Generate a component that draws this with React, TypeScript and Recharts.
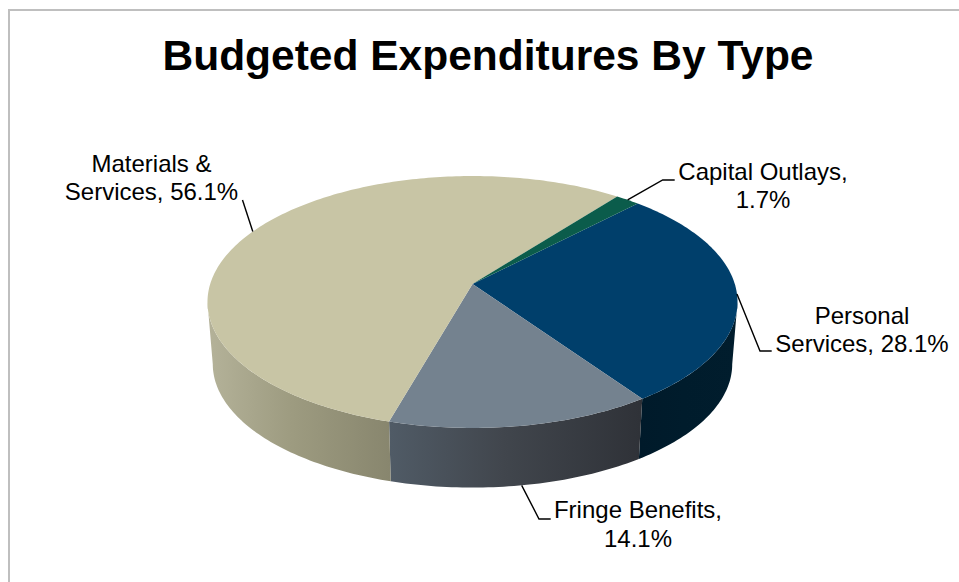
import React from "react";
import { PieChart, Pie } from "recharts";

// ---- data
const categories = ["Personal Services", "Fringe Benefits", "Materials & Services", "Capital Outlays"];
const shares = [28.1, 14.1, 56.1, 1.7];
const labelFirstLines = ["Personal", "Fringe Benefits,", "Materials &", "Capital Outlays,"];
const labelSecondPrefixes = ["Services, ", "", "Services, ", ""];
const chartTitle = "Budgeted Expenditures By Type";

// ---- styles
const topColors = ["#003f6b", "#74828f", "#c8c5a5", "#0b5c4b"];
const wallStops = [
  ["#001a2a", "#001c2c", "#011d2d"],
  ["#505b66", "#41464d", "#2f3238"],
  ["#b3b198", "#9d9b80", "#88866e"],
  ["#063a30", "#063a30", "#063a30"],
];
const wallGradientX = [[640, 737], [390, 640], [212, 390], [600, 640]];
const FONT = '"Liberation Sans", Arial, sans-serif';

// ---- layout
const CX = 472.5;
const CY = 284;
const RADIUS = 262.3;
const K = 1 / 7;
const H = 123.4;
const BOTTOM_CY = 346.5;
const BOTTOM_SCALE = 0.98;
const SILHOUETTE = (Math.acos(-K) * 180) / Math.PI;

const labelCenters = [862, 638, 151.5, 763];
const labelBaselines = [[324, 351.7], [518.3, 546.7], [172, 200], [180, 207.7]];
// elbow points of the leader lines, from the rim point outward
const leaderPoints = [
  [[760, 351], [771.7, 351]],
  [[539, 519], [550.7, 519]],
  [[242.5, 200]],
  [[662.7, 180], [674.7, 180]],
];

const rad = (d: number) => (d * Math.PI) / 180;

// theta: degrees clockwise from 12 o'clock on the tilted disc
function top(theta: number, r = RADIUS) {
  const u = Math.sin(rad(theta));
  const v = Math.cos(rad(theta));
  const d = 1 + K * v;
  return [CX + (r * u) / d, CY - (H * v) / d];
}
function bottom(theta: number) {
  const [x, y] = top(theta);
  return [CX + BOTTOM_SCALE * (x - CX), BOTTOM_CY + BOTTOM_SCALE * (y - CY)];
}
function sample(a: number, b: number) {
  const n = Math.max(2, Math.ceil(Math.abs(b - a)));
  const out: number[] = [];
  for (let i = 0; i <= n; i++) out.push(a + ((b - a) * i) / n);
  return out;
}
const toPath = (pts: number[][]) =>
  "M" + pts.map((p) => `${p[0].toFixed(2)},${p[1].toFixed(2)}`).join("L") + "Z";

function Slice(props: any) {
  const { startAngle, endAngle, index, fill } = props;
  const s = 90 - startAngle;
  const e = 90 - endAngle;
  const topPts = [[CX, CY], ...sample(s, e).map((t) => top(t))];
  const ws = Math.max(s, SILHOUETTE);
  const we = Math.min(e, 360 - SILHOUETTE);
  const id = `wall-${index}`;
  return (
    <g>
      {we > ws && (
        <>
          <defs>
            <linearGradient id={id} gradientUnits="userSpaceOnUse" x1={wallGradientX[index][0]} x2={wallGradientX[index][1]} y1={0} y2={0}>
              <stop offset="0%" stopColor={wallStops[index][0]} />
              <stop offset="45%" stopColor={wallStops[index][1]} />
              <stop offset="100%" stopColor={wallStops[index][2]} />
            </linearGradient>
          </defs>
          <path
            d={toPath([...sample(ws, we).map((t) => top(t)), ...sample(we, ws).map((t) => bottom(t))])}
            fill={`url(#${id})`}
            stroke="none"
          />
        </>
      )}
      <path d={toPath(topPts)} fill={fill} stroke="none" />
    </g>
  );
}

function SliceLabel(props: any) {
  const { index, midAngle, value } = props;
  const theta = 90 - midAngle;
  const norm = ((theta % 360) + 360) % 360;
  const front = norm > SILHOUETTE && norm < 360 - SILHOUETTE;
  const rim = front ? bottom(norm) : top(norm);
  const pts = [rim, ...leaderPoints[index]];
  return (
    <g>
      <polyline
        points={pts.map((p) => p.join(",")).join(" ")}
        fill="none"
        stroke="#000"
        strokeWidth={1.4}
      />
      <text x={labelCenters[index]} y={labelBaselines[index][0]} textAnchor="middle" fontFamily={FONT} fontSize={24} fill="#000">
        {labelFirstLines[index]}
      </text>
      <text x={labelCenters[index]} y={labelBaselines[index][1]} textAnchor="middle" fontFamily={FONT} fontSize={24} fill="#000">
        {`${labelSecondPrefixes[index]}${value}%`}
      </text>
    </g>
  );
}

const tableData = categories.map((name, i) => ({ name, share: shares[i], fill: topColors[i] }));

export default function App() {
  return (
    <div style={{ position: "absolute", left: 0, top: 0, width: 959, height: 582, overflow: "hidden", background: "#fff" }}>
      <div style={{ position: "absolute", left: 8, top: 9, width: 951, height: 573, borderLeft: "2px solid #bfbfbf", borderTop: "2px solid #bfbfbf", boxSizing: "border-box" }} />
      <div style={{ position: "absolute", left: 0, width: 976, top: 26, height: 60, lineHeight: "60px", textAlign: "center", fontFamily: FONT, fontWeight: 700, fontSize: 42.5, color: "#000", whiteSpace: "nowrap" }}>
        {chartTitle}
      </div>
      <div style={{ position: "absolute", left: 0, top: 0 }}>
        <PieChart width={959} height={582} margin={{ top: 0, right: 0, bottom: 0, left: 0 }}>
          <Pie
            data={tableData}
            dataKey="share"
            nameKey="name"
            cx={CX}
            cy={CY}
            innerRadius={0}
            outerRadius={RADIUS}
            startAngle={46}
            endAngle={-314}
            stroke="none"
            isAnimationActive={false}
            shape={Slice}
            label={SliceLabel}
            labelLine={false}
            rootTabIndex={-1}
          />
        </PieChart>
      </div>
    </div>
  );
}
